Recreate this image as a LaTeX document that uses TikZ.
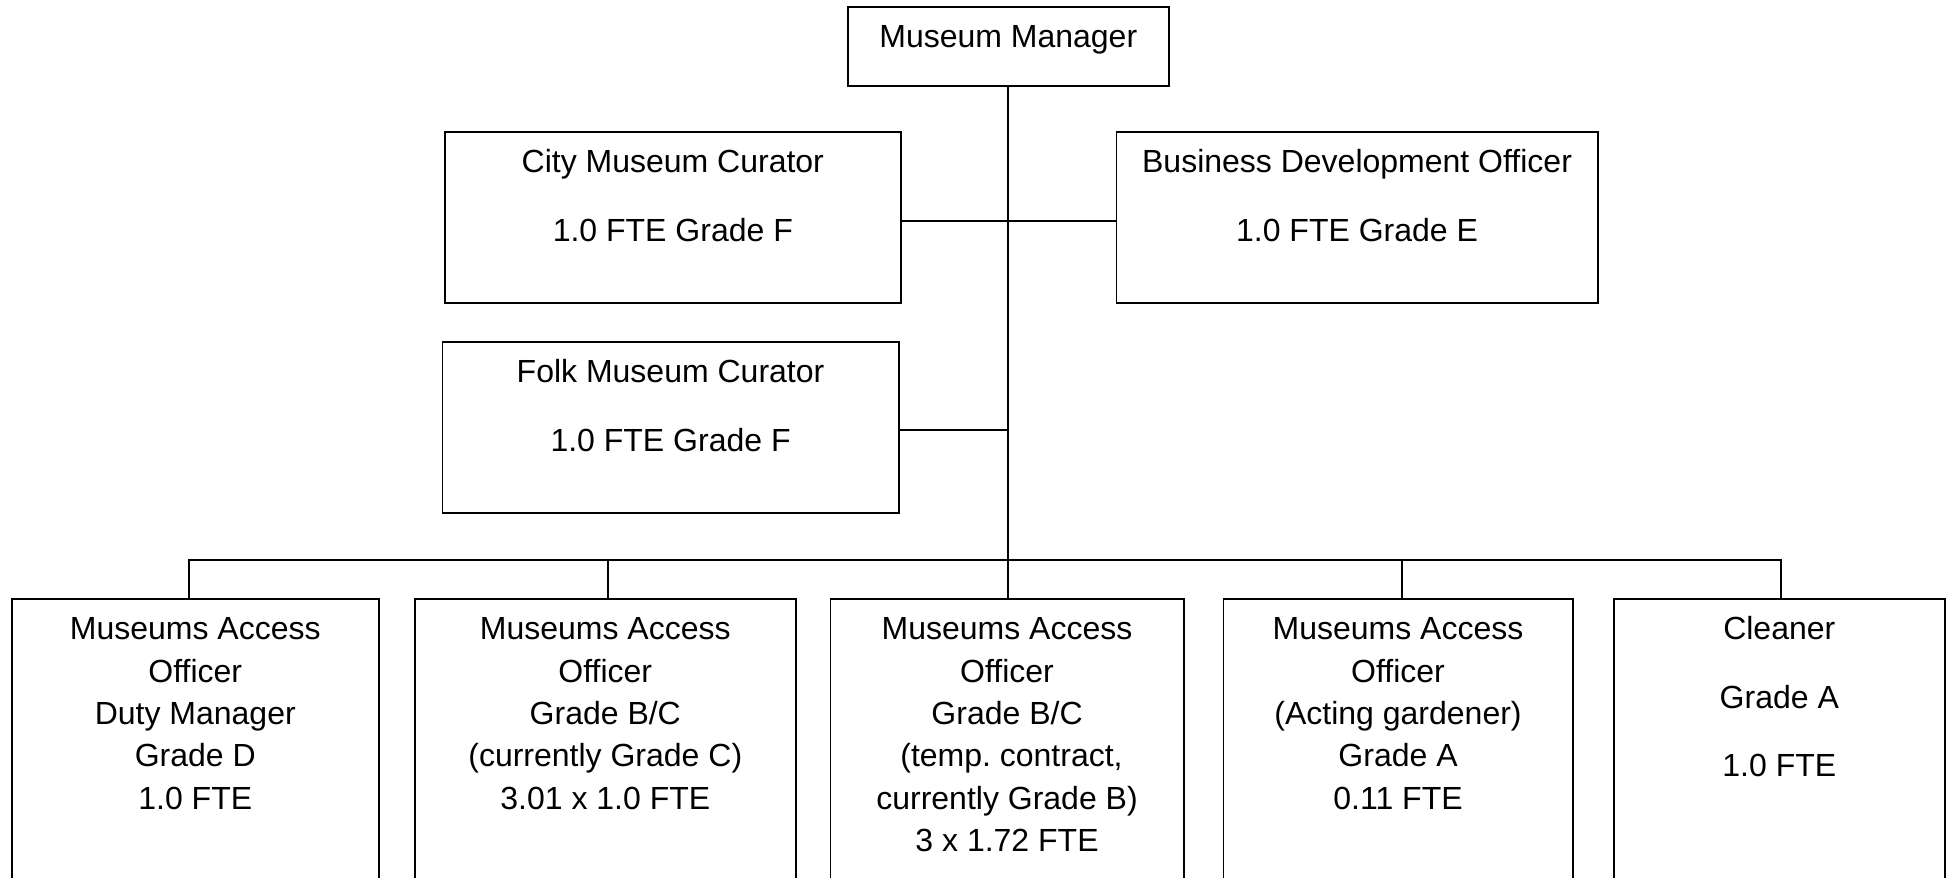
\documentclass[tikz,border=0pt]{standalone}
\usepackage{fontspec}
\setmainfont{Liberation Sans}
\usetikzlibrary{calc}
\frenchspacing
\begin{document}
\begin{tikzpicture}[x=0.5pt,y=-0.5pt,
  box/.style={draw,line width=0.8pt,anchor=north west,inner sep=0pt,fill=white},
  txt/.style={anchor=north,inner sep=0pt,align=center,font=\fontsize{16pt}{21.15pt}\selectfont},
  conn/.style={line width=0.9pt}]
\useasboundingbox (0,0) rectangle (1950,878);
\clip (0,0) rectangle (1950,878);
\fill[white] (0,0) rectangle (1950,878);
% boxes
\node[box,minimum width=160.5pt,minimum height=39.5pt] (mgr) at (847,6) {};
\node[box,minimum width=228pt,minimum height=85.5pt] (city) at (444,131) {};
\node[box,minimum width=240.75pt,minimum height=85.5pt] (bdo) at (1115.5,131) {};
\node[box,minimum width=228.25pt,minimum height=85.5pt] (folk) at (441.5,341) {};
\node[box,minimum width=183.5pt,minimum height=160pt] (a1) at (11,598) {};
\node[box,minimum width=190.5pt,minimum height=160pt] (a2) at (414,598) {};
\node[box,minimum width=176.75pt,minimum height=160pt] (a3) at (829.5,598) {};
\node[box,minimum width=174.75pt,minimum height=160pt] (a4) at (1222.5,598) {};
\node[box,minimum width=165.5pt,minimum height=160pt] (a5) at (1613,598) {};
% texts
\node[txt] (tmgr) at ([yshift=-8.75pt]mgr.north) {\rule{0pt}{12pt}Museum Manager};
\node[txt] (tcity) at ([yshift=-8.75pt]city.north) {\rule{0pt}{12pt}City Museum Curator\\[13pt]1.0 FTE Grade F};
\node[txt] (tbdo) at ([yshift=-8.75pt]bdo.north) {\rule{0pt}{12pt}Business Development Officer\\[13pt]1.0 FTE Grade E};
\node[txt] (tfolk) at ([yshift=-8.75pt]folk.north) {\rule{0pt}{12pt}Folk Museum Curator\\[13pt]1.0 FTE Grade F};
\node[txt] (ta1) at ([yshift=-8.75pt]a1.north) {\rule{0pt}{12pt}Museums Access\\Officer\\Duty Manager\\Grade D\\1.0 FTE};
\node[txt] (ta2) at ([yshift=-8.75pt]a2.north) {\rule{0pt}{12pt}Museums Access\\Officer\\Grade B/C\\(currently Grade C)\\3.01 x 1.0 FTE};
\node[txt] (ta3) at ([yshift=-8.75pt]a3.north) {\rule{0pt}{12pt}Museums Access\\Officer\\Grade B/C\\\hspace*{4.45pt}(temp.\ contract,\\currently Grade B)\\3 x 1.72 FTE};
\node[txt] (ta4) at ([yshift=-8.75pt]a4.north) {\rule{0pt}{12pt}Museums Access\\Officer\\(Acting gardener)\\Grade A\\0.11 FTE};
\node[txt] (ta5) at ([yshift=-8.75pt]a5.north) {\rule{0pt}{12pt}Cleaner\\[13.1pt]Grade A\\[13.1pt]1.0 FTE};
% connectors
\coordinate (bus) at (1008,560);
\draw[conn] (mgr.south) -- (mgr.south |- a3.north);
\draw[conn] ([yshift=-2pt]city.east) -- ([yshift=-2pt]bdo.west);
\draw[conn] ([yshift=-1.25pt]folk.east) -- ([yshift=-1.25pt]folk.east -| mgr.south);
\draw[conn] ([xshift=-3.25pt]a1.north) |- (bus) -| ([xshift=0.75pt]a5.north);
\draw[conn] ([xshift=1.25pt]a2.north) -- ([xshift=1.25pt]a2.north |- bus);
\draw[conn] ([xshift=2pt]a4.north) -- ([xshift=2pt]a4.north |- bus);
\end{tikzpicture}
\end{document}
